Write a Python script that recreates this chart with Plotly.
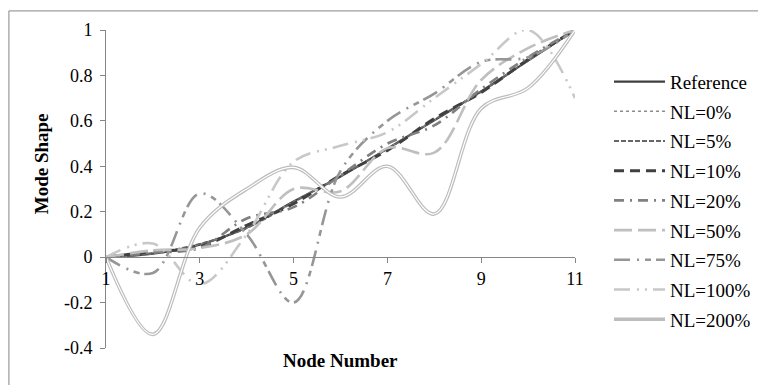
import plotly.graph_objects as go

nodes = [1, 2, 3, 4, 5, 6, 7, 8, 9, 10, 11]

reference = [0, 0.015, 0.055, 0.13, 0.245, 0.355, 0.478, 0.602, 0.73, 0.865, 1.0]
nl_0 = [0, 0.016, 0.056, 0.131, 0.244, 0.356, 0.477, 0.603, 0.731, 0.864, 1.0]
nl_5 = [0, 0.018, 0.058, 0.128, 0.242, 0.358, 0.476, 0.605, 0.728, 0.866, 1.0]
nl_10 = [0, 0.025, 0.045, 0.14, 0.235, 0.36, 0.47, 0.61, 0.725, 0.87, 1.0]
nl_20 = [0, 0.02, 0.04, 0.17, 0.22, 0.36, 0.50, 0.58, 0.74, 0.88, 1.0]
nl_50 = [0, 0.03, 0.04, 0.10, 0.30, 0.29, 0.48, 0.46, 0.78, 0.92, 1.0]
nl_75 = [0, -0.07, 0.28, 0.10, -0.20, 0.38, 0.60, 0.72, 0.86, 0.88, 1.0]
nl_100 = [0, 0.06, -0.12, 0.10, 0.42, 0.49, 0.55, 0.70, 0.85, 1.0, 0.70]
nl_200 = [0, -0.34, 0.13, 0.30, 0.395, 0.265, 0.40, 0.19, 0.655, 0.745, 1.0]

x_ticks = [1, 3, 5, 7, 9, 11]
x_tick_labels = ["1", "3", "5", "7", "9", "11"]
y_ticks = [-0.4, -0.2, 0, 0.2, 0.4, 0.6, 0.8, 1]
y_tick_labels = ["-0.4", "-0.2", "0", "0.2", "0.4", "0.6", "0.8", "1"]

series = [
    ("Reference", reference, "#3f3f3f", 2.2, "solid"),
    ("NL=0%", nl_0, "#8c8c8c", 1.6, "dot"),
    ("NL=5%", nl_5, "#666666", 2.0, "5px,2px"),
    ("NL=10%", nl_10, "#404040", 3.0, "10px,6px"),
    ("NL=20%", nl_20, "#808080", 2.6, "10px,6px,2px,6px"),
    ("NL=50%", nl_50, "#bfbfbf", 2.6, "18px,6px"),
    ("NL=75%", nl_75, "#969696", 2.6, "16px,7px,2px,6px,6px,5px"),
    ("NL=100%", nl_100, "#c8c8c8", 2.6, "16px,7px,2px,6px,2px,6px"),
]

SERIF = "Liberation Serif, Times New Roman, serif"

fig = go.Figure()
for i, (name, vals, color, width, dash) in enumerate(series):
    fig.add_trace(go.Scatter(
        x=nodes, y=vals, name=name, mode="lines",
        line=dict(color=color, width=width, dash=dash, shape="spline"),
        legendgroup=f"g{i}",
    ))

# NL=200% drawn as a double (compound) line
fig.add_trace(go.Scatter(
    x=nodes, y=nl_200, name="NL=200%", mode="lines",
    line=dict(color="#bdbdbd", width=3.6, shape="spline"),
    legendgroup="g200",
))
fig.add_trace(go.Scatter(
    x=nodes, y=nl_200, name="NL=200%", mode="lines",
    line=dict(color="#ffffff", width=1.2, shape="spline"),
    legendgroup="g200", showlegend=False, hoverinfo="skip",
))

ymin, ymax = -0.4, 1.0
fig.update_layout(
    width=758, height=385,
    margin=dict(l=106, r=183, t=30, b=37, autoexpand=False),
    paper_bgcolor="white", plot_bgcolor="white",
    font=dict(family=SERIF, size=18, color="#000000"),
    showlegend=True,
    legend=dict(
        x=1.0725, y=0.897, xanchor="left", yanchor="top",
        font=dict(family=SERIF, size=19, color="#000000"),
        tracegroupgap=2, traceorder="grouped", itemwidth=51,
        bgcolor="rgba(0,0,0,0)",
    ),
    xaxis=dict(
        range=[1, 11], tickvals=x_ticks, ticktext=x_tick_labels,
        showgrid=False, zeroline=False,
        showline=True, linecolor="#868686", linewidth=1,
        ticks="outside", ticklen=5, tickcolor="#868686",
        anchor="free", position=(0 - ymin) / (ymax - ymin),
        tickfont=dict(family=SERIF, size=18, color="#000000"),
        automargin=False,
    ),
    yaxis=dict(
        range=[ymin, ymax], tickvals=y_ticks, ticktext=y_tick_labels,
        showgrid=False, zeroline=False,
        showline=True, linecolor="#868686", linewidth=1,
        ticks="outside", ticklen=5, tickcolor="#868686",
        ticklabelstandoff=4,
        tickfont=dict(family=SERIF, size=18, color="#000000"),
        automargin=False,
    ),
    annotations=[
        dict(
            text="<b>Node Number</b>", xref="paper", yref="paper",
            x=0.5, y=-0.04, xanchor="center", yanchor="middle", showarrow=False,
            font=dict(family=SERIF, size=19, color="#000000"),
        ),
        dict(
            text="<b>Mode Shape</b>", xref="paper", yref="paper",
            x=-0.137, y=0.58, xanchor="center", yanchor="middle", showarrow=False,
            textangle=-90,
            font=dict(family=SERIF, size=19, color="#000000"),
        ),
    ],
    shapes=[dict(
        type="rect", xref="paper", yref="paper",
        x0=-0.207, x1=1.42, y0=-0.16, y1=1.06,
        line=dict(color="#868686", width=1), fillcolor="rgba(0,0,0,0)",
        layer="below",
    )],
)

fig.write_html("out.html", post_script="document.body.style.margin='0';",
               config={"displayModeBar": False})
